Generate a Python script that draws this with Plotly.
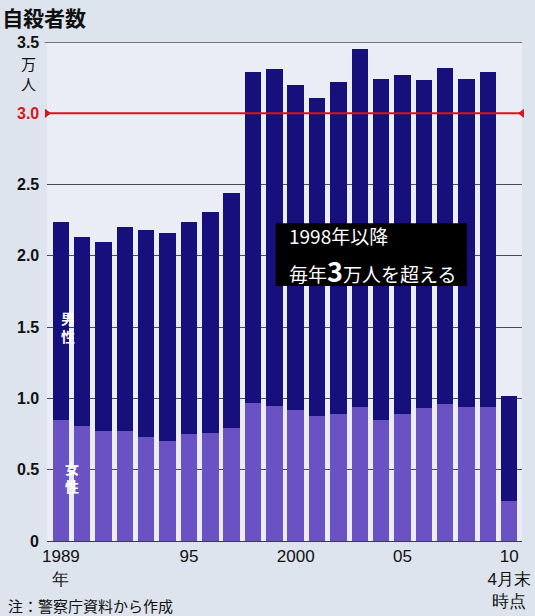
import plotly.graph_objects as go

YEARS = list(range(1989, 2011))
FEMALE = [0.85, 0.81, 0.77, 0.77, 0.73, 0.70, 0.75, 0.76, 0.79, 0.97, 0.95,
          0.92, 0.88, 0.89, 0.94, 0.85, 0.89, 0.93, 0.96, 0.94, 0.94, 0.28]
MALE = [1.39, 1.32, 1.33, 1.43, 1.45, 1.46, 1.49, 1.55, 1.65, 2.32, 2.36,
        2.28, 2.23, 2.33, 2.51, 2.39, 2.38, 2.30, 2.36, 2.30, 2.35, 0.74]
THRESHOLD = 3.0
Y_TICKS = [0, 0.5, 1.0, 1.5, 2.0, 2.5, 3.0, 3.5]
Y_TICK_TEXT = ["0", "0.5", "1.0", "1.5", "2.0", "2.5", "3.0", "3.5"]
X_TICKS = [1989, 1995, 2000, 2005, 2010]
X_TICK_TEXT = ["1989<br>年", "95", "2000", "05", "10<br>4月末<br>時点"]

MALE_COLOR = "#17107c"
FEMALE_COLOR = "#6b52c2"
RED = "#d8141c"
JP = "Noto Sans CJK JP"
NUM = "Liberation Sans"
X_RANGE = [1988.35, 2010.6]

fig = go.Figure()
fig.add_trace(go.Bar(x=YEARS, y=FEMALE, marker=dict(color=FEMALE_COLOR, line=dict(width=0)), name="女性"))
fig.add_trace(go.Bar(x=YEARS, y=MALE, marker=dict(color=MALE_COLOR, line=dict(width=0)), name="男性"))
fig.add_trace(go.Scatter(
    x=X_RANGE, y=[THRESHOLD, THRESHOLD], mode="lines+markers",
    line=dict(color=RED, width=2),
    marker=dict(symbol=["triangle-right", "triangle-left"], size=8, color=RED),
    cliponaxis=False, hoverinfo="skip"))

annotations = []
for v, t in zip(Y_TICKS, Y_TICK_TEXT):
    annotations.append(dict(
        x=0, xref="paper", y=v, yref="y", xanchor="right", yanchor="middle",
        xshift=-6, text="<b>" + t + "</b>", showarrow=False,
        font=dict(family=NUM, size=16, color=RED if v == THRESHOLD else "#111")))

annotations += [
    dict(x=-0.039, xref="paper", y=0.936, yref="paper", text="万<br>人",
         showarrow=False, font=dict(family=JP, size=15, color="#111"),
         xanchor="center", yanchor="middle"),
    dict(x=0.506, xref="paper", y=0.613, yref="paper", xanchor="left", yanchor="middle",
         text="1998年以降", showarrow=False,
         font=dict(family=JP, size=19, color="#fff")),
    dict(x=0.506, xref="paper", y=0.543, yref="paper", xanchor="left", yanchor="middle",
         text="毎年<span style='font-size:27px'><b>3</b></span>万人を超える", showarrow=False,
         font=dict(family=JP, size=19, color="#fff")),
    dict(x=1989.35, xref="x", y=1.5, yref="y", text="<b>男<br>性</b>", showarrow=False,
         font=dict(family=JP, size=14, color="#fff"), xanchor="center", yanchor="middle"),
    dict(x=1989.5, xref="x", y=0.45, yref="y", text="<b>女<br>性</b>", showarrow=False,
         font=dict(family=JP, size=14, color="#fff"), xanchor="center", yanchor="middle"),
    dict(x=-0.0868, xref="paper", y=-0.130, yref="paper", xanchor="left", yanchor="middle",
         text="注：警察庁資料から作成", showarrow=False,
         font=dict(family=JP, size=15, color="#111")),
]

fig.update_layout(
    width=535, height=616,
    margin=dict(l=47, r=4, t=42, b=75),
    barmode="stack", bargap=0.23, showlegend=False,
    paper_bgcolor="#dde4ee", plot_bgcolor="#eaecf6",
    title=dict(text="<b>自殺者数</b>", x=0.004, xanchor="left", y=0.969, yanchor="middle",
               yref="container", font=dict(family=JP, size=21, color="#111")),
    xaxis=dict(range=X_RANGE, tickvals=X_TICKS, ticktext=X_TICK_TEXT, showgrid=False,
               ticks="", showline=True, linecolor="#3a3a50", linewidth=1,
               ticklabeloverflow="allow",
               tickfont=dict(family="Liberation Sans Narrow, " + NUM, size=17, color="#111"),
               zeroline=False),
    yaxis=dict(range=[0, 3.5], tickvals=[0.5, 1.0, 1.5, 2.0, 2.5], showticklabels=False,
               showgrid=True, gridcolor="#4a4a5c", gridwidth=1, zeroline=False, ticks=""),
    annotations=annotations,
    shapes=[
        dict(type="line", xref="paper", yref="y", x0=-0.005, x1=1.0, y0=3.5, y1=3.5,
             line=dict(color="#77777f", width=2)),
        dict(type="rect", xref="paper", yref="paper", x0=0.4814, x1=0.8843, y0=0.511, y1=0.637,
             fillcolor="#000", line=dict(width=0), layer="above"),
    ],
)

fig.write_html("out.html")
